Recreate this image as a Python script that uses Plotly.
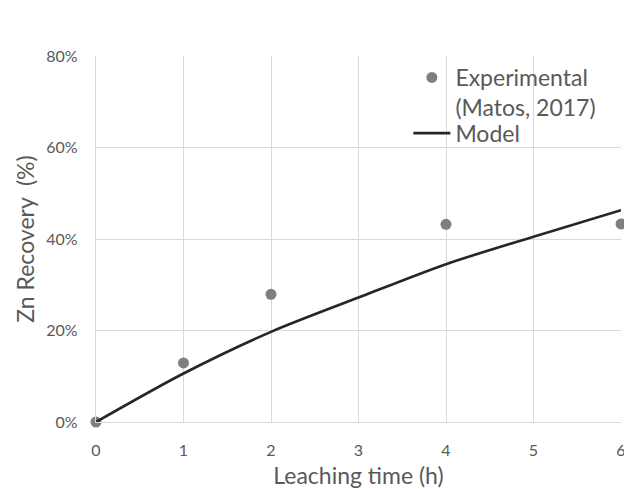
import plotly.graph_objects as go

# Data
exp_time = [0, 1, 2, 4, 6]
exp_recovery = [0.0, 0.129, 0.279, 0.432, 0.433]
model_time = [0, 1, 2, 3, 4, 5, 6]
model_recovery = [0.0, 0.106, 0.197, 0.272, 0.345, 0.405, 0.463]

x_ticks = [0, 1, 2, 3, 4, 5, 6]
y_ticks = [0, 0.2, 0.4, 0.6, 0.8]
y_tick_labels = ["0%", "20%", "40%", "60%", "80%"]

FONT = "Lato"
TXT = "#595959"
GRID = "#d9d9d9"

fig = go.Figure()
fig.add_trace(go.Scatter(
    x=exp_time, y=exp_recovery, mode="markers",
    name="Experimental<br>(Matos, 2017)",
    marker=dict(color="#7f7f7f", size=11),
    cliponaxis=False,
    showlegend=True,
))
fig.add_trace(go.Scatter(
    x=model_time, y=model_recovery, mode="lines",
    name="Model",
    line=dict(color="#262626", width=2.6, shape="spline", smoothing=0.8),
    legend="legend2",
    showlegend=True,
))

legend_common = dict(
    xanchor="left", yanchor="top",
    bgcolor="rgba(255,255,255,0)",
    font=dict(family=FONT, size=23, color=TXT),
    valign="top",
    tracegroupgap=0,
    itemwidth=37,
    visible=True,
)

fig.update_layout(
    width=624, height=489,
    showlegend=True,
    margin=dict(l=96, r=3, t=56, b=67),
    paper_bgcolor="white", plot_bgcolor="white",
    font=dict(family=FONT, color=TXT, size=16),
    legend=dict(x=0.595, y=1.0, **legend_common),
    legend2=dict(x=0.595, y=0.848, **legend_common),
    xaxis=dict(
        range=[0, 6], tickvals=x_ticks, ticktext=[str(v) for v in x_ticks],
        showgrid=True, gridcolor=GRID, gridwidth=1.3,
        zeroline=False, showline=True, linecolor=GRID, linewidth=1.3,
        ticks="outside", ticklen=14, tickcolor="rgba(0,0,0,0)",
        ticklabeloverflow="allow", automargin=False,
        tickfont=dict(size=16, color=TXT),
        title=dict(text="Leaching time (h)", font=dict(size=23, color=TXT), standoff=14),
    ),
    yaxis=dict(
        range=[0, 0.8], tickvals=y_ticks, ticktext=y_tick_labels,
        showgrid=True, gridcolor=GRID, gridwidth=1.3,
        zeroline=False, showline=True, linecolor=GRID, linewidth=1.3,
        ticks="outside", ticklen=14, tickcolor="rgba(0,0,0,0)",
        automargin=False,
        tickfont=dict(size=16, color=TXT),
        title=dict(text="Zn Recovery \u00a0(%)", font=dict(size=23, color=TXT), standoff=5),
    ),
)

fig.write_html("out.html")
